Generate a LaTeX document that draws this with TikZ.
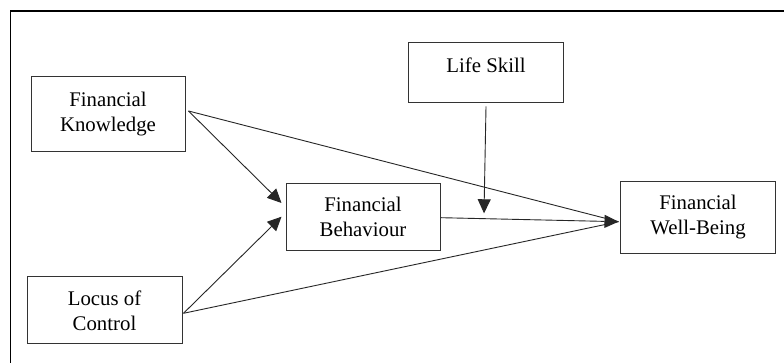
\documentclass[tikz,border=0pt]{standalone}
\usepackage{fontspec}
\setmainfont{Liberation Serif}
\newfontfamily\tnr{Liberation Serif}
\usetikzlibrary{arrows.meta}
\begin{document}
\begin{tikzpicture}[x=1pt,y=1pt,
  box/.style={draw=black!80, line width=1pt, align=center, inner sep=0pt,
    font=\tnr\fontsize{20.8}{25}\selectfont},
  conn/.style={draw=black!85, line width=0.9pt},
  tip/.style={-{Triangle[length=14pt,width=13pt]}}]
\useasboundingbox (0,0) rectangle (784,363);
\fill[white] (0,0) rectangle (784,363);
\draw[line width=1.4pt] (10.5,-5) -- (10.5,352) -- (790,352);
\node[box, minimum width=154pt, minimum height=75pt] (fk) at (108,249) {Financial\\Knowledge};
\node[box, minimum width=155pt, minimum height=60pt] (ls) at (486,290) {Life Skill\\[-10pt]~};
\node[box, minimum width=154pt, minimum height=67pt] (fb) at (363,146.3) {Financial\\Behaviour};
\node[box, minimum width=155pt, minimum height=72pt] (fwb) at (698,145.5) {Financial\\Well-Being};
\node[box, minimum width=155pt, minimum height=67pt] (loc) at (104.5,52.5) {Locus of\\Control};
\coordinate (t) at ([xshift=-1.5pt,yshift=-4.2pt]fwb.west);
\coordinate (m) at (484,149.7);
\coordinate (fks) at ([xshift=3pt,yshift=3pt]fk.east);
\coordinate (locs) at ([xshift=1pt,yshift=-2.8pt]loc.east);
\draw[conn,tip] (fks) -- ([xshift=-4pt,yshift=13.7pt]fb.west);
\draw[conn,tip] (locs) -- ([xshift=-4pt,yshift=0pt]fb.west);
\draw[conn] (fks) -- (t);
\draw[conn] (locs) -- (t);
\draw[conn,tip] ([xshift=0.5pt,yshift=-1pt]fb.east) -- (t);
\draw[conn,tip] ([yshift=-3pt]ls.south) -- (m);
\end{tikzpicture}
\end{document}
